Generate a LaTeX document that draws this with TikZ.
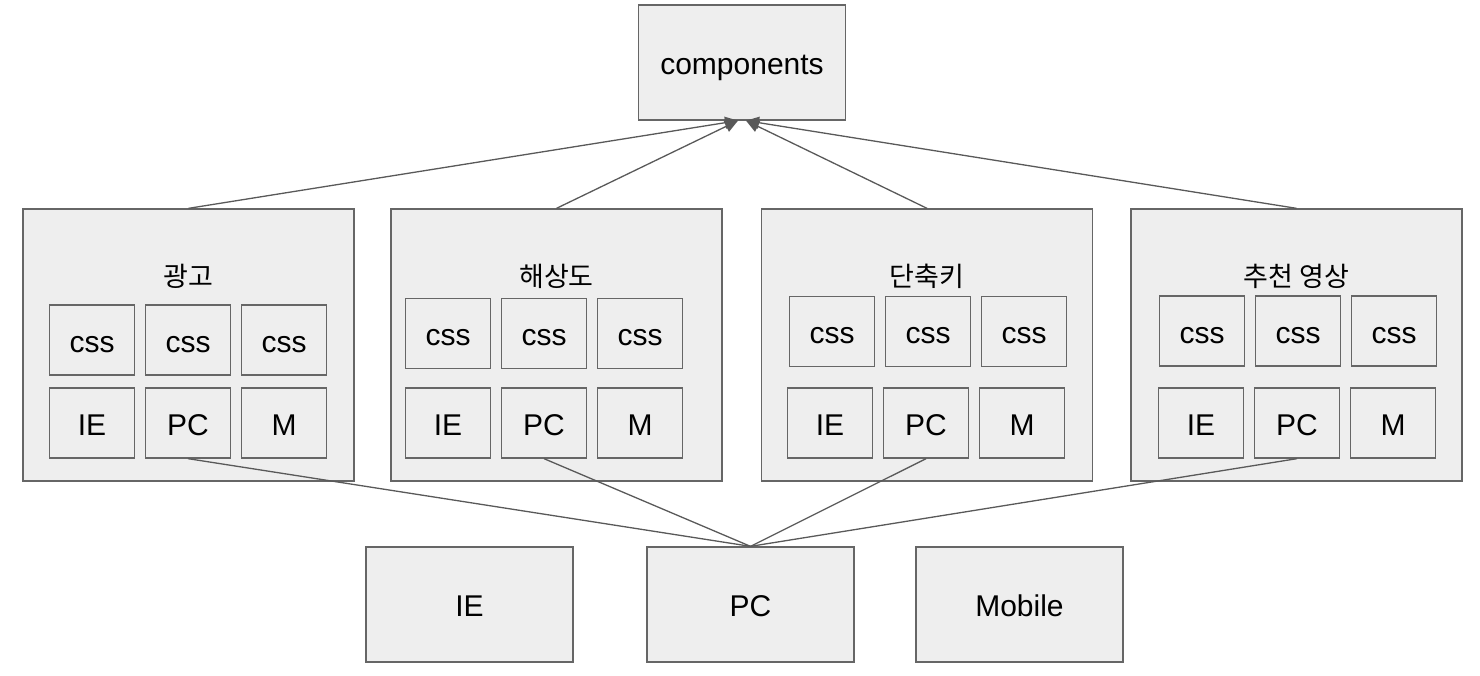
\documentclass[tikz,border=0pt]{standalone}
\usepackage{fontspec}
\setmainfont{Liberation Sans}
\newfontfamily\korfont{Noto Sans CJK KR}
\usetikzlibrary{arrows.meta, positioning}
\definecolor{boxfill}{HTML}{EEEEEE}
\definecolor{boxline}{HTML}{666666}
\definecolor{linkline}{HTML}{595959}

\begin{document}
\begin{tikzpicture}[x=1pt,y=-1pt,
    box/.style={draw=boxline, fill=boxfill, line width=1.3pt, inner sep=0pt,
        minimum width=207pt, minimum height=115pt, text height=24pt, text depth=0pt,
        font=\fontsize{30}{34}\selectfont},
    group/.style={box, minimum width=331pt, minimum height=272pt},
    cell/.style={box, minimum width=85pt, minimum height=70pt},
    title/.style={font=\korfont\fontsize{27}{30}\selectfont},
    link/.style={draw=linkline, line width=1.3pt},
    dep/.style={link, -{Triangle[length=13pt,width=12pt]}}]
    \useasboundingbox (0,0) rectangle (1480,676);

    \node[box] (components) at (742,62.5) {components};

    % feature groups: name / centre / title / css row / css x / bottom row x
    \foreach \g/\gx/\gtitle/\cy/\cx/\bx in {
        1/188.5/광고/340/92/92,
        2/556.5/해상도/333.5/448/448,
        3/927/단축키/331.5/832/830,
        4/1296.5/{추천 영상}/331/1202/1201} {
        \node[group] (g\g) at (\gx,345) {};
        \node[title] (g\g title) at (\gx,276) {\gtitle};
        \node[cell] (g\g css1) at (\cx,\cy) {css};
        \node[cell] (g\g css2) at (\cx+96,\cy) {css};
        \node[cell] (g\g css3) at (\cx+192,\cy) {css};
        \node[cell] (g\g ie) at (\bx,423) {IE};
        \node[cell] (g\g pc) at (\bx+96,423) {PC};
        \node[cell] (g\g m) at (\bx+192,423) {M};
    }

    % platforms
    \node[box] (ie) at (469.5,604.5) {IE};
    \node[box] (pc) at (750.5,604.5) {PC};
    \node[box] (mobile) at (1019.5,604.5) {Mobile};

    \draw[dep] (g1.north) -- ([xshift=-4pt]components.south);
    \draw[dep] (g2.north) -- ([xshift=-4pt]components.south);
    \draw[dep] (g3.north) -- ([xshift=4pt]components.south);
    \draw[dep] (g4.north) -- ([xshift=4pt]components.south);

    \foreach \g in {1,2,3,4}
        \draw[link] (g\g pc.south) -- (pc.north);
\end{tikzpicture}
\end{document}
